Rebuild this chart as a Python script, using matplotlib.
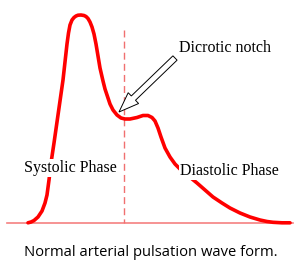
import matplotlib
matplotlib.use("Agg")
import matplotlib.pyplot as plt

# Pulse waveform (x: time, y: pixel-like height, 0 at top)
wave_x = [28, 31, 34, 38, 42, 45, 47, 49, 51, 54, 57, 60, 63, 65, 67, 68.5, 70, 72, 74, 76,
          78, 81, 84, 86, 88, 90, 92, 94, 96, 98, 100, 103, 105, 108, 110, 113, 117, 121,
          125, 130, 137, 143, 148, 152, 155, 158, 161, 165, 170, 175, 180, 186, 197, 205,
          213, 222, 230, 240, 250, 260, 267, 273, 282, 290]
wave_y = [222.8, 222, 220.5, 217, 211, 203, 195, 180, 163, 143, 122, 101, 80, 62, 44, 33, 25,
          20, 17.5, 16, 15.2, 15, 15.5, 16.5, 18.5, 22, 27, 34, 44, 56, 68, 81, 89, 98,
          104, 110, 115, 118, 119, 119, 117.5, 115.5, 115.5, 117.5, 121, 128, 137, 148,
          157, 164, 169, 174, 183, 190, 197, 203, 208, 213, 217, 220, 221.5, 222.3, 222.8,
          222.8]

baseline_x = [7, 293]
baseline_y = 222.8
notch_x = 124
notch_top = 30

arrow_tail = (175, 58)
arrow_tip = (119, 112)

labels = {
    "Dicrotic notch": (179, 48),
    "Systolic Phase": (24, 168),
    "Diastolic Phase": (180, 171),
}
caption = "Normal arterial pulsation wave form."

fig = plt.figure(figsize=(3.0, 2.65), dpi=100)
ax = fig.add_axes([0, 0, 1, 1])
ax.set_xlim(0, 300)
ax.set_ylim(265, 0)
ax.axis("off")

ax.plot(baseline_x, [baseline_y, baseline_y], color="#f58080", lw=1.2, zorder=1)
ax.plot([notch_x, notch_x], [notch_top, baseline_y], color="#f07070", lw=1.0,
        dashes=(5, 3), zorder=1)
ax.plot(wave_x, wave_y, color="#ff0000", lw=2.6, solid_capstyle="round",
        solid_joinstyle="round", zorder=3)

dx = arrow_tip[0] - arrow_tail[0]
dy = arrow_tip[1] - arrow_tail[1]
ax.arrow(arrow_tail[0], arrow_tail[1], dx, dy, width=6, head_width=15, head_length=20,
         length_includes_head=True, fc="white", ec="black", lw=0.7, zorder=4)

for txt, (x, y) in labels.items():
    ax.text(x, y, txt, family="Liberation Serif", fontsize=11.5, ha="left",
            va="center", color="black", zorder=5,
            bbox=dict(facecolor="white", edgecolor="none", pad=0.6))

ax.text(151, 252, caption, family="Open Sans", fontsize=10.6, ha="center",
        va="center", color="black")

fig.savefig("out.png", dpi=100)
